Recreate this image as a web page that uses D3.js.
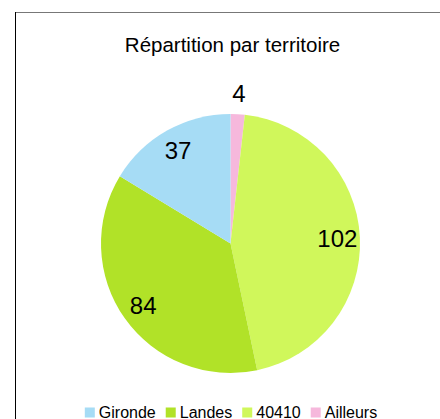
<!DOCTYPE html>
<html>
<head>
<meta charset="utf-8">
<script src="https://cdn.jsdelivr.net/npm/d3@7"></script>
<style>
  body { margin: 0; background: #fff; }
  svg { display: block; font-family: "Liberation Sans", Arial, sans-serif; }
</style>
</head>
<body>
<div id="chart"></div>
<script>
// Data (clockwise from 12 o'clock)
const categories = ['Ailleurs', '40410', 'Landes', 'Gironde'];
const values = [4, 102, 84, 37];
const colors = ['#f6b8dc', '#d0f75b', '#b1e228', '#a6dcf5'];
// legend order differs from drawing order
const legendOrder = ['Gironde', 'Landes', '40410', 'Ailleurs'];
const title = 'Répartition par territoire';

const width = 440, height = 419;
const cx = 230.5, cy = 243.5, radius = 129.5;

const svg = d3.select('#chart').append('svg')
  .attr('width', width)
  .attr('height', height);

// Frame (only top and left edges show in the crop)
svg.append('line')
  .attr('x1', 15).attr('x2', width)
  .attr('y1', 12.5).attr('y2', 12.5)
  .attr('stroke', '#777').attr('stroke-width', 1.2);
svg.append('line')
  .attr('x1', 15.5).attr('x2', 15.5)
  .attr('y1', 12).attr('y2', height)
  .attr('stroke', '#000').attr('stroke-width', 1);

svg.append('text')
  .attr('x', 232.5)
  .attr('y', 51.5)
  .attr('text-anchor', 'middle')
  .attr('font-size', 20.5)
  .attr('fill', '#000')
  .text(title);

const data = categories.map((c, i) => ({name: c, value: values[i]}));
const color = d3.scaleOrdinal().domain(categories).range(colors);

const pie = d3.pie().sort(null).value(d => d.value);
const arc = d3.arc().innerRadius(0).outerRadius(radius);
const labelArc = d3.arc().innerRadius(107).outerRadius(107);
const outerLabelArc = d3.arc().innerRadius(150).outerRadius(150);

const g = svg.append('g').attr('transform', `translate(${cx},${cy})`);
const arcs = pie(data);

g.selectAll('path')
  .data(arcs)
  .join('path')
  .attr('d', arc)
  .attr('fill', d => color(d.data.name));

// Small slices get their label outside the pie
g.selectAll('text')
  .data(arcs)
  .join('text')
  .attr('transform', d => {
    const small = (d.endAngle - d.startAngle) < 0.3;
    const p = (small ? outerLabelArc : labelArc).centroid(d);
    return `translate(${p[0]},${p[1]})`;
  })
  .attr('text-anchor', 'middle')
  .attr('dy', '0.36em')
  .attr('font-size', 24)
  .attr('fill', '#000')
  .text(d => d.data.value);

// Legend along the bottom, centred
const legend = svg.append('g');
const items = legendOrder.map(name => {
  const it = legend.append('g');
  it.append('rect')
    .attr('width', 10).attr('height', 10)
    .attr('y', -10)
    .attr('fill', color(name));
  const t = it.append('text')
    .attr('x', 14)
    .attr('font-size', 16)
    .attr('fill', '#000')
    .text(name);
  return {it, w: 14 + t.node().getComputedTextLength()};
});
const gap = 10;
const total = d3.sum(items, d => d.w) + gap * (items.length - 1);
let x = 231 - total / 2;
items.forEach(d => {
  d.it.attr('transform', `translate(${x},${417.5})`);
  x += d.w + gap;
});
</script>
</body>
</html>
